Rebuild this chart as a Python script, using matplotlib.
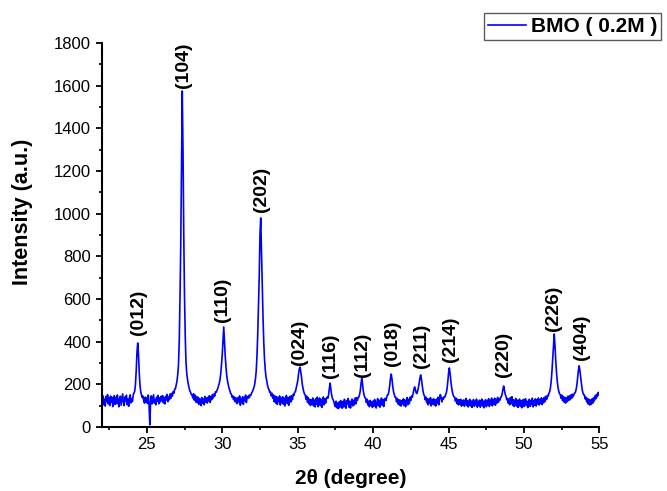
import numpy as np
import matplotlib
matplotlib.use("Agg")
import matplotlib.pyplot as plt
from matplotlib.ticker import MultipleLocator

plt.rcParams['font.family'] = ['Liberation Sans', 'DejaVu Sans']

# 2-theta sampling grid (0.05 degree steps, 22.00 .. 55.00)
two_theta = np.round(np.arange(22.0, 55.0001, 0.05), 2)

# Intensity, one row per degree (22.00 .. 22.95, 23.00 .. 23.95, ...)
intensity = [
    # 22
    140, 112, 146, 104, 131, 98, 143, 120, 152, 108, 136, 101, 145, 116, 139, 96, 129, 147, 106, 138,
    # 23
    110, 150, 119, 95, 133, 144, 102, 127, 155, 117, 100, 141, 122, 149, 105, 131, 97, 138, 151, 113,
    # 24
    133, 120, 150, 160, 168, 200, 265, 350, 394, 340, 255, 195, 165, 150, 138, 145, 122, 112, 140, 118,
    # 25
    136, 110, 150, 106, 10, 116, 146, 108, 131, 151, 112, 129, 104, 140, 121, 148, 109, 137, 118, 144,
    # 26
    124, 147, 113, 138, 108, 144, 127, 153, 119, 141, 128, 155, 135, 158, 145, 166, 158, 178, 180, 198,
    # 27
    215, 245, 290, 400, 600, 850, 1230, 1575, 1300, 900, 610, 420, 300, 250, 222, 200, 185, 170, 163, 152,
    # 28
    150, 136, 156, 126, 149, 117, 143, 114, 139, 106, 134, 120, 100, 138, 112, 131, 104, 143, 116, 136,
    # 29
    112, 139, 122, 147, 115, 142, 128, 152, 136, 155, 145, 165, 163, 172, 180, 192, 204, 222, 250, 290,
    # 30
    340, 405, 469, 395, 330, 280, 240, 215, 198, 182, 172, 158, 155, 140, 145, 128, 141, 119, 137, 112,
    # 31
    110, 138, 118, 146, 102, 133, 114, 142, 106, 139, 124, 150, 115, 141, 134, 148, 138, 152, 149, 160,
    # 32
    166, 175, 186, 200, 225, 262, 330, 430, 560, 700, 900, 980, 820, 650, 520, 400, 320, 270, 235, 214,
    # 33
    196, 183, 175, 162, 164, 146, 158, 135, 150, 118, 145, 112, 142, 106, 138, 119, 146, 103, 135, 114,
    # 34
    142, 107, 136, 99, 132, 148, 111, 139, 102, 133, 144, 117, 147, 128, 153, 148, 163, 166, 182, 196,
    # 35
    215, 245, 270, 281, 262, 236, 202, 182, 166, 155, 150, 130, 145, 116, 137, 108, 130, 101, 127, 106,
    # 36
    136, 99, 126, 94, 133, 106, 140, 95, 122, 136, 100, 130, 92, 121, 141, 104, 133, 112, 134, 140,
    # 37
    135, 152, 182, 206, 175, 150, 134, 128, 118, 103, 95, 121, 90, 112, 86, 118, 93, 124, 98, 88,
    # 38
    120, 94, 130, 100, 88, 124, 106, 134, 93, 121, 89, 117, 131, 99, 125, 104, 136, 109, 138, 124,
    # 39
    136, 140, 152, 172, 205, 230, 198, 168, 150, 138, 136, 115, 130, 103, 121, 95, 125, 101, 118, 92,
    # 40
    122, 97, 129, 104, 89, 118, 133, 99, 125, 93, 119, 136, 102, 128, 96, 131, 134, 124, 140, 150,
    # 41
    152, 170, 196, 230, 248, 224, 190, 166, 152, 140, 140, 118, 134, 108, 128, 102, 126, 98, 123, 108,
    # 42
    132, 101, 127, 95, 122, 138, 104, 130, 110, 140, 125, 145, 140, 157, 176, 188, 174, 160, 157, 170,
    # 43
    186, 206, 230, 244, 224, 196, 170, 154, 146, 128, 140, 114, 133, 104, 130, 110, 138, 99, 128, 108,
    # 44
    133, 103, 126, 98, 131, 110, 140, 104, 134, 152, 141, 118, 136, 130, 142, 140, 152, 160, 182, 215,
    # 45
    255, 277, 250, 215, 186, 165, 150, 143, 140, 122, 135, 110, 130, 104, 127, 107, 130, 98, 124, 103,
    # 46
    127, 97, 120, 134, 102, 124, 94, 119, 130, 99, 122, 92, 117, 129, 97, 121, 104, 131, 93, 120,
    # 47
    100, 126, 93, 119, 131, 98, 122, 90, 116, 128, 95, 124, 103, 133, 96, 125, 105, 136, 99, 128,
    # 48
    108, 135, 102, 130, 112, 139, 116, 133, 126, 140, 142, 156, 176, 192, 174, 154, 145, 128, 134, 112,
    # 49
    131, 104, 138, 110, 142, 102, 128, 96, 121, 134, 98, 126, 92, 119, 131, 97, 124, 90, 117, 129,
    # 50
    96, 123, 133, 100, 121, 91, 118, 130, 97, 124, 105, 135, 94, 123, 102, 132, 98, 127, 108, 136,
    # 51
    103, 128, 110, 137, 105, 133, 114, 140, 120, 144, 130, 148, 145, 158, 166, 185, 215, 262, 322, 390,
    # 52
    436, 382, 312, 256, 216, 186, 168, 156, 152, 135, 150, 124, 143, 117, 139, 112, 137, 119, 144, 124,
    # 53
    146, 128, 150, 134, 154, 143, 152, 160, 162, 176, 196, 230, 265, 287, 265, 234, 200, 176, 160, 151,
    # 54
    150, 132, 140, 118, 134, 108, 130, 103, 127, 106, 132, 112, 137, 122, 146, 132, 153, 142, 161, 150,
    # 55
    165,
]

series_name = "BMO ( 0.2M )"

# Miller-index labels and where they sit
hkl_labels = ["(012)", "(104)", "(110)", "(202)", "(024)", "(116)", "(112)",
              "(018)", "(211)", "(214)", "(220)", "(226)", "(404)"]
hkl_x = [24.42, 27.40, 30.00, 32.58, 35.10, 37.20, 39.32,
         41.26, 43.18, 45.15, 48.62, 51.96, 53.78]
hkl_y = [431, 1590, 492, 1008, 291, 230, 234,
         286, 277, 305, 234, 452, 314]

x_ticks = [25, 30, 35, 40, 45, 50, 55]
y_ticks = [0, 200, 400, 600, 800, 1000, 1200, 1400, 1600, 1800]

fig = plt.figure(figsize=(6.67, 4.91), dpi=100)
ax = fig.add_axes([0.1522, 0.1303, 0.7466, 0.7821])

line, = ax.plot(two_theta, intensity, color='#0000FF', linewidth=1.2, label=series_name)

for name, lx, ly in zip(hkl_labels, hkl_x, hkl_y):
    ax.text(lx, ly, name, rotation=90, ha='center', va='bottom',
            fontsize=14, fontweight='bold', color='black')

ax.set_xlim(22, 55)
ax.set_ylim(0, 1800)
ax.set_xticks(x_ticks)
ax.set_yticks(y_ticks)
ax.xaxis.set_minor_locator(MultipleLocator(2.5))
ax.yaxis.set_minor_locator(MultipleLocator(100))

for s in ['top', 'right']:
    ax.spines[s].set_visible(False)
for s in ['left', 'bottom']:
    ax.spines[s].set_linewidth(1.5)

ax.tick_params(axis='both', which='major', direction='out', length=4.5, width=1.3,
               labelsize=12, pad=3)
ax.tick_params(axis='both', which='minor', direction='out', length=2.5, width=1.2)

ax.set_xlabel("2θ (degree)", fontsize=15, fontweight='bold', labelpad=12)
ax.set_ylabel("Intensity (a.u.)", fontsize=15.5, fontweight='bold')
ax.yaxis.set_label_coords(-0.138, 0.56)

leg = fig.legend(handles=[line], loc='upper left', bbox_to_anchor=(484 / 667, 1 - 13 / 491),
                 frameon=True, fancybox=False, fontsize=15, handlelength=1.8,
                 handletextpad=0.25, borderpad=0.2, borderaxespad=0)
for t in leg.get_texts():
    t.set_fontweight('bold')
leg.get_frame().set_edgecolor('#333333')
leg.get_frame().set_linewidth(1.0)

fig.savefig("out.png", dpi=100)
